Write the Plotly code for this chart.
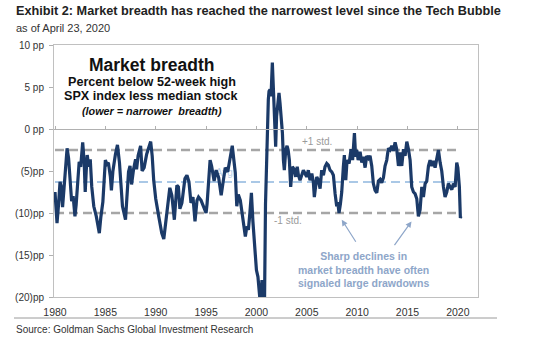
import plotly.graph_objects as go

# ---------------- data ----------------
years = [
    1980.0, 1980.1, 1980.2, 1980.35, 1980.5, 1980.6, 1980.75, 1980.9, 1981.05, 1981.2,
    1981.35, 1981.5, 1981.65, 1981.8, 1981.98, 1982.1, 1982.25, 1982.4, 1982.55, 1982.75,
    1982.9, 1983.0, 1983.1, 1983.2, 1983.35, 1983.5, 1983.65, 1983.85, 1984.1, 1984.4,
    1984.55, 1984.75, 1985.0, 1985.15, 1985.3, 1985.5, 1985.6, 1985.75, 1986.0, 1986.2,
    1986.4, 1986.55, 1986.7, 1987.0, 1987.15, 1987.3, 1987.45, 1987.6, 1987.8, 1988.0,
    1988.1, 1988.25, 1988.5, 1988.65, 1988.85, 1989.1, 1989.5, 1989.65, 1989.8, 1990.0,
    1990.3, 1990.6, 1990.8, 1991.0, 1991.2, 1991.4, 1991.6, 1991.85, 1992.1, 1992.25,
    1992.4, 1992.6, 1992.9, 1993.1, 1993.3, 1993.5, 1993.7, 1993.9, 1994.1, 1994.25,
    1994.5, 1994.7, 1995.0, 1995.1, 1995.25, 1995.4, 1995.55, 1995.8, 1996.0, 1996.25,
    1996.5, 1996.7, 1996.9, 1997.15, 1997.45, 1997.6, 1997.75, 1997.9, 1998.05, 1998.2,
    1998.4, 1998.65, 1998.9, 1999.05, 1999.2, 1999.35, 1999.5, 1999.65, 1999.8, 2000.0,
    2000.15, 2000.3, 2000.4, 2000.55, 2000.7, 2000.8, 2000.9, 2001.0, 2001.1, 2001.18,
    2001.25, 2001.35, 2001.45, 2001.58, 2001.68, 2001.78, 2001.91, 2002.0, 2002.11, 2002.24,
    2002.34, 2002.44, 2002.58, 2002.68, 2002.77, 2002.91, 2003.04, 2003.15, 2003.27, 2003.4,
    2003.57, 2003.75, 2003.9, 2004.05, 2004.17, 2004.33, 2004.5, 2004.66, 2004.82, 2004.99,
    2005.15, 2005.32, 2005.5, 2005.65, 2005.75, 2005.99, 2006.15, 2006.32, 2006.48, 2006.65,
    2006.81, 2006.98, 2007.14, 2007.31, 2007.48, 2007.64, 2007.81, 2007.97, 2008.08, 2008.2,
    2008.34, 2008.47, 2008.63, 2008.73, 2008.87, 2009.0, 2009.2, 2009.4, 2009.55, 2009.73,
    2009.85, 2009.96, 2010.1, 2010.29, 2010.46, 2010.62, 2010.79, 2010.95, 2011.12, 2011.28,
    2011.45, 2011.61, 2011.78, 2011.95, 2012.11, 2012.28, 2012.44, 2012.61, 2012.77, 2012.94,
    2013.1, 2013.27, 2013.44, 2013.6, 2013.77, 2013.93, 2014.1, 2014.26, 2014.43, 2014.6,
    2014.76, 2014.93, 2015.09, 2015.26, 2015.42, 2015.59, 2015.75, 2015.92, 2016.08, 2016.25,
    2016.42, 2016.58, 2016.75, 2016.91, 2017.08, 2017.24, 2017.41, 2017.57, 2017.74, 2017.91,
    2018.07, 2018.24, 2018.4, 2018.57, 2018.73, 2018.9, 2019.06, 2019.23, 2019.4, 2019.56,
    2019.73, 2019.89, 2020.0, 2020.15, 2020.25, 2020.3,
]
breadth = [
    -7.5, -9.5, -11.2, -9.0, -6.3, -6.8, -9.3, -7.0, -4.0, -2.3,
    -3.5, -6.0, -8.6, -8.0, -10.4, -9.0, -6.5, -3.9, -4.5, -1.6,
    -4.0, -7.5, -5.0, -3.1, -4.5, -3.6, -6.9, -9.2, -10.4, -12.4,
    -10.5, -8.7, -3.7, -4.2, -4.0, -5.7, -7.3, -5.0, -3.0, -1.9,
    -4.0, -6.1, -9.2, -10.8, -7.9, -5.1, -4.4, -6.6, -4.8, -3.6,
    -4.8, -3.2, -2.0, -5.0, -4.6, -3.0, -1.5, -3.2, -6.1, -8.3,
    -10.4, -12.4, -13.1, -11.0, -8.9, -7.0, -7.9, -10.8, -6.7, -6.9,
    -9.5, -8.8, -5.9, -5.5, -6.3, -8.8, -8.1, -11.0, -8.5, -8.1,
    -8.5, -9.1, -10.0, -8.9, -6.1, -3.7, -4.4, -6.2, -4.9, -5.8,
    -7.9, -6.1, -4.6, -5.1, -3.1, -2.0, -3.6, -5.2, -9.2, -7.8,
    -8.5, -11.0, -12.8, -11.6, -12.0, -10.0, -7.6, -11.0, -14.2, -16.8,
    -17.6, -19.5, -21.0, -18.0, -21.0, -21.0, -9.0, -3.0, 1.5, 3.5,
    4.5, 4.7, 3.9, 7.9, 4.9, 1.5, -2.1, 1.5, 2.7, 4.3,
    3.1, 1.5, -0.5, -3.7, -4.9, -2.5, -2.0, -2.5, -3.7, -6.9,
    -4.5, -4.8, -5.7, -4.5, -5.5, -6.1, -5.3, -4.9, -5.3, -5.7,
    -4.9, -6.1, -5.3, -6.3, -8.1, -5.7, -6.1, -7.1, -4.9, -5.5,
    -4.5, -4.1, -4.3, -4.9, -5.1, -5.5, -7.7, -9.2, -8.7, -10.0,
    -8.9, -7.5, -4.5, -3.1, -6.1, -3.7, -4.1, -2.4, -3.7, -0.5,
    -3.3, -2.5, -3.7, -2.7, -4.0, -3.3, -4.6, -3.2, -3.5, -3.2,
    -4.4, -6.5, -7.3, -7.6, -6.2, -6.0, -6.4, -5.8, -4.4, -3.7,
    -2.3, -2.5, -2.0, -2.6, -1.6, -2.4, -4.4, -2.8, -4.4, -2.4,
    -3.2, -1.5, -2.4, -3.7, -6.9, -7.5, -7.7, -8.3, -10.4, -9.6,
    -6.9, -8.1, -6.5, -6.2, -4.4, -3.7, -4.4, -3.8, -4.6, -3.7,
    -2.5, -4.0, -5.0, -6.9, -8.1, -7.5, -6.5, -6.9, -7.2, -6.5,
    -6.9, -4.0, -4.6, -6.9, -10.6, -10.4,
]

avg_level = -6.3
plus_std = -2.5
minus_std = -10.0

x_tick_vals = [1980, 1985, 1990, 1995, 2000, 2005, 2010, 2015, 2020]
y_tick_vals = [-20, -15, -10, -5, 0, 5, 10]
y_tick_text = ["(20)pp", "(15)pp", "(10)pp", "(5)pp", "0 pp", "5 pp", "10 pp"]

# ---------------- styling ----------------
NAVY = "#1b3a68"
GRAY = "#a6a6a6"
LIGHTBLUE = "#aac8e6"
NOTE = "#8ea6c9"
FONT = "Liberation Sans, Arial, sans-serif"

W, H = 540, 339
L, R, T, B = 54, 62, 45, 42


def px(x):
    return (x - L) / (W - L - R)


def py(y):
    return (H - B - y) / (H - T - B)


fig = go.Figure()

# Avg label (drawn under the line)
fig.add_trace(go.Scatter(x=[1996.8], y=[-5.25], mode="text", text=["Avg"],
                         textfont=dict(family=FONT, size=10, color="#b7cfe8"),
                         hoverinfo="skip", showlegend=False, xaxis="x"))

# reference lines
x_span = [years[0], years[-1]]
fig.add_trace(go.Scatter(x=x_span, y=[plus_std] * 2, mode="lines",
                         line=dict(color=GRAY, width=2.5, dash="9px,5px"),
                         hoverinfo="skip", showlegend=False, xaxis="x"))
fig.add_trace(go.Scatter(x=x_span, y=[minus_std] * 2, mode="lines",
                         line=dict(color=GRAY, width=2.5, dash="9px,5px"),
                         hoverinfo="skip", showlegend=False, xaxis="x"))
fig.add_trace(go.Scatter(x=x_span, y=[avg_level] * 2, mode="lines",
                         line=dict(color=LIGHTBLUE, width=2, dash="9px,5px"),
                         hoverinfo="skip", showlegend=False, xaxis="x"))

# main series on the overlaying axis (whose line sits at 0)
fig.add_trace(go.Scatter(x=years, y=breadth, mode="lines",
                         line=dict(color=NAVY, width=3.2),
                         showlegend=False, xaxis="x2", yaxis="y"))

xr = [1979.9, 2022.0]
fig.update_layout(
    width=W, height=H,
    margin=dict(l=L, r=R, t=T, b=B),
    paper_bgcolor="white", plot_bgcolor="white",
    font=dict(family=FONT, color="#333333"),
    xaxis=dict(range=xr, tickvals=x_tick_vals, ticks="", showgrid=False, zeroline=False,
               showline=True, mirror=True, linecolor="#c0c0c0", linewidth=1,
               tickfont=dict(size=10.5, color="#333333"), ticklabelstandoff=5),
    xaxis2=dict(range=xr, tickvals=x_tick_vals, overlaying="x", anchor="free",
                position=(0 - (-20)) / 30, side="top", ticks="outside", ticklen=3,
                tickcolor="#b0b0b0", showticklabels=False, showgrid=False,
                zeroline=False, showline=True, linecolor="#b0b0b0", linewidth=1),
    yaxis=dict(range=[-20, 10], tickvals=y_tick_vals, ticktext=y_tick_text,
               ticks="outside", ticklen=4, tickcolor="#b0b0b0", showgrid=False,
               zeroline=False, showline=True, mirror=True, linecolor="#c0c0c0",
               linewidth=1, tickfont=dict(size=10, color="#333333"),
               ticklabelstandoff=3),
)

ann = []
# header texts
ann.append(dict(x=px(14), y=py(11), xref="paper", yref="paper", xanchor="left", yanchor="middle",
                text="<b>Exhibit 2: Market breadth has reached the narrowest level since the Tech Bubble</b>",
                showarrow=False, font=dict(family=FONT, size=12.7, color="#222222")))
ann.append(dict(x=px(14), y=py(28), xref="paper", yref="paper", xanchor="left", yanchor="middle",
                text="as of April 23, 2020", showarrow=False,
                font=dict(family=FONT, size=11, color="#333333")))
ann.append(dict(x=px(14), y=py(329), xref="paper", yref="paper", xanchor="left", yanchor="middle",
                text="Source: Goldman Sachs Global Investment Research", showarrow=False,
                font=dict(family=FONT, size=10, color="#333333")))

# inset title block
ann.append(dict(x=1989.6, y=7.6, xref="x", yref="y", xanchor="center", yanchor="middle",
                text="<b>Market breadth</b>", showarrow=False,
                font=dict(family=FONT, size=17.5, color="#111111")))
ann.append(dict(x=1989.6, y=5.6, xref="x", yref="y", xanchor="center", yanchor="middle",
                text="<b>Percent below 52-week high</b>", showarrow=False,
                font=dict(family=FONT, size=12.6, color="#111111")))
ann.append(dict(x=1989.6, y=3.9, xref="x", yref="y", xanchor="center", yanchor="middle",
                text="<b>SPX index less median stock</b>", showarrow=False,
                font=dict(family=FONT, size=12.6, color="#111111")))
ann.append(dict(x=1989.6, y=2.1, xref="x", yref="y", xanchor="center", yanchor="middle",
                text="<b><i>(lower = narrower  breadth)</i></b>", showarrow=False,
                font=dict(family=FONT, size=10.8, color="#111111")))

# std labels
ann.append(dict(x=2006.0, y=-1.5, xref="x", yref="y", text="+1 std.", showarrow=False,
                font=dict(family=FONT, size=10, color="#9a9a9a")))
ann.append(dict(x=2003.1, y=-10.9, xref="x", yref="y", text="-1 std.", showarrow=False,
                font=dict(family=FONT, size=10, color="#9a9a9a")))

# note and arrows
ann.append(dict(x=2010.6, y=-16.7, xref="x", yref="y", xanchor="center", yanchor="middle",
                text="<b>Sharp declines in<br>market breadth have often<br>signaled large drawdowns</b>",
                showarrow=False, align="center",
                font=dict(family=FONT, size=10.5, color=NOTE)))
ann.append(dict(x=2008.47, y=-10.8, ax=2009.96, ay=-13.6, xref="x", yref="y", axref="x", ayref="y",
                text="", showarrow=True, arrowhead=2, arrowsize=1, arrowwidth=1.2, arrowcolor=NOTE))
ann.append(dict(x=2015.4, y=-11.0, ax=2013.6, ay=-14.0, xref="x", yref="y", axref="x", ayref="y",
                text="", showarrow=True, arrowhead=2, arrowsize=1, arrowwidth=1.2, arrowcolor=NOTE))

fig.update_layout(annotations=ann)

fig.add_shape(type="line", xref="paper", yref="paper", x0=px(14), x1=px(497),
              y0=py(318), y1=py(318), line=dict(color="#9a9a9a", width=1))

fig.write_html("out.html")
